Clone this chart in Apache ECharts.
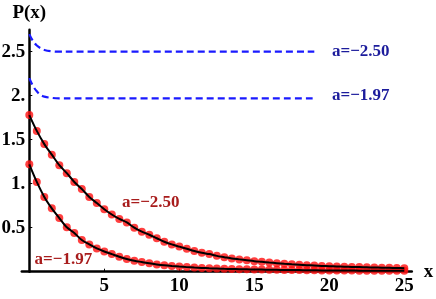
<!DOCTYPE html>
<html><head><meta charset="utf-8">
<script src="https://cdn.jsdelivr.net/npm/echarts@6/dist/echarts.min.js"></script>
<style>html,body{margin:0;padding:0;background:#fff}#c{width:436px;height:299px}</style>
</head><body><div id="c"></div>
<script>
const xs = [0,0.5,1,1.5,2,2.5,3,3.5,4,4.5,5,5.5,6,6.5,7,7.5,8,8.5,9,9.5,10,10.5,11,11.5,12,12.5,13,13.5,14,14.5,15,15.5,16,16.5,17,17.5,18,18.5,19,19.5,20,20.5,21,21.5,22,22.5,23,23.5,24,24.5,25];
const pA250 = [1.78,1.60,1.45,1.33,1.21,1.12,1.02,0.94,0.85,0.78,0.71,0.65,0.60,0.56,0.50,0.455,0.42,0.38,0.34,0.31,0.285,0.26,0.235,0.215,0.20,0.18,0.165,0.15,0.14,0.13,0.12,0.112,0.104,0.097,0.09,0.084,0.079,0.074,0.07,0.066,0.063,0.06,0.057,0.054,0.052,0.05,0.048,0.046,0.044,0.042,0.04];
const pA197 = [1.22,1.02,0.85,0.72,0.61,0.505,0.44,0.36,0.31,0.265,0.23,0.20,0.17,0.145,0.125,0.11,0.095,0.083,0.073,0.065,0.058,0.052,0.047,0.043,0.039,0.036,0.033,0.031,0.029,0.027,0.025,0.024,0.022,0.021,0.02,0.019,0.018,0.017,0.016,0.015,0.015,0.014,0.013,0.013,0.012,0.012,0.011,0.011,0.01,0.01,0.01];
const blueX = [0,0.25,0.5,0.75,1,1.5,2,3,19];
const blueA250 = [2.70,2.62,2.57,2.54,2.52,2.505,2.50,2.50,2.50];
const blueA197 = [2.20,2.11,2.05,2.01,1.99,1.975,1.97,1.97,1.97];
const xTicks = [5,10,15,20,25];
const yTicks = [0.5,1,1.5,2,2.5];
const yTickLabels = ['0.5','1.','1.5','2.','2.5'];
const labelA250 = 'a=\u22122.50';
const labelA197 = 'a=\u22121.97';

const zip = (a,b) => a.map((v,i)=>[v,b[i]]);
const font = '"Liberation Serif", "Times New Roman", serif';
const red = '#a81c1c', navy = '#1c1c9c';
function tagSeries(text, coord, color){
  return {type:'scatter', data:[coord], symbol:'rect', symbolSize:1, itemStyle:{color:'rgba(0,0,0,0)'}, silent:true, z:5,
    label:{show:true, formatter:text, position:'inside', color:color, opacity:1, fontFamily:font, fontWeight:'bold', fontSize:17}};
}
const chart = echarts.init(document.getElementById('c'));
chart.setOption({
  animation:false,
  grid:{left:21.8, right:24.2, top:29.7, bottom:27.3, containLabel:false, outerBoundsMode:'none'},
  xAxis:{type:'value', min:-0.5, max:25.5, name:'x', nameLocation:'end', nameGap:12,
    nameTextStyle:{fontFamily:font, fontWeight:'bold', fontSize:19, color:'#000', verticalAlign:'middle'},
    axisLine:{onZero:false, lineStyle:{color:'#000', width:2.5}},
    axisTick:{show:true, inside:true, length:3, customValues:xTicks, lineStyle:{color:'#000', width:1}},
    axisLabel:{customValues:xTicks, margin:5, fontFamily:font, fontWeight:'bold', fontSize:19, color:'#000'},
    splitLine:{show:false}},
  yAxis:{type:'value', min:0, max:2.75, name:'P(x)', nameLocation:'end', nameGap:7,
    nameTextStyle:{fontFamily:font, fontWeight:'bold', fontSize:19, color:'#000', align:'center'},
    axisLine:{onZero:true, lineStyle:{color:'#000', width:2.5}},
    axisTick:{show:true, inside:true, length:3, customValues:yTicks, lineStyle:{color:'#000', width:1}},
    axisLabel:{customValues:yTicks, margin:-3.5, fontFamily:font, fontWeight:'bold', fontSize:19, color:'#000',
      formatter:(v)=>{const i=yTicks.indexOf(v); return i>=0?yTickLabels[i]:'';}},
    splitLine:{show:false}},
  series:[
    {type:'scatter', data:zip(xs,pA250), symbolSize:8, itemStyle:{color:'#ff0f0f'}, z:2},
    {type:'scatter', data:zip(xs,pA197), symbolSize:8, itemStyle:{color:'#ff0f0f'}, z:2},
    {type:'line', data:zip(xs,pA250), showSymbol:false, smooth:0.3, lineStyle:{color:'#000', width:2}, z:3},
    {type:'line', data:zip(xs,pA197), showSymbol:false, smooth:0.3, lineStyle:{color:'#000', width:2}, z:3},
    {type:'line', data:zip(blueX,blueA250), showSymbol:false, smooth:0.4, lineStyle:{color:'#1a1aff', width:2.2, type:[7,4]}, z:3},
    {type:'line', data:zip(blueX,blueA197), showSymbol:false, smooth:0.4, lineStyle:{color:'#1a1aff', width:2.2, type:[7,4]}, z:3},
    tagSeries(labelA250,[8.1,0.78],red),
    tagSeries(labelA197,[2.27,0.14],red),
    tagSeries(labelA250,[22.1,2.5],navy),
    tagSeries(labelA197,[22.1,2.0],navy)
  ]
});
</script></body></html>
